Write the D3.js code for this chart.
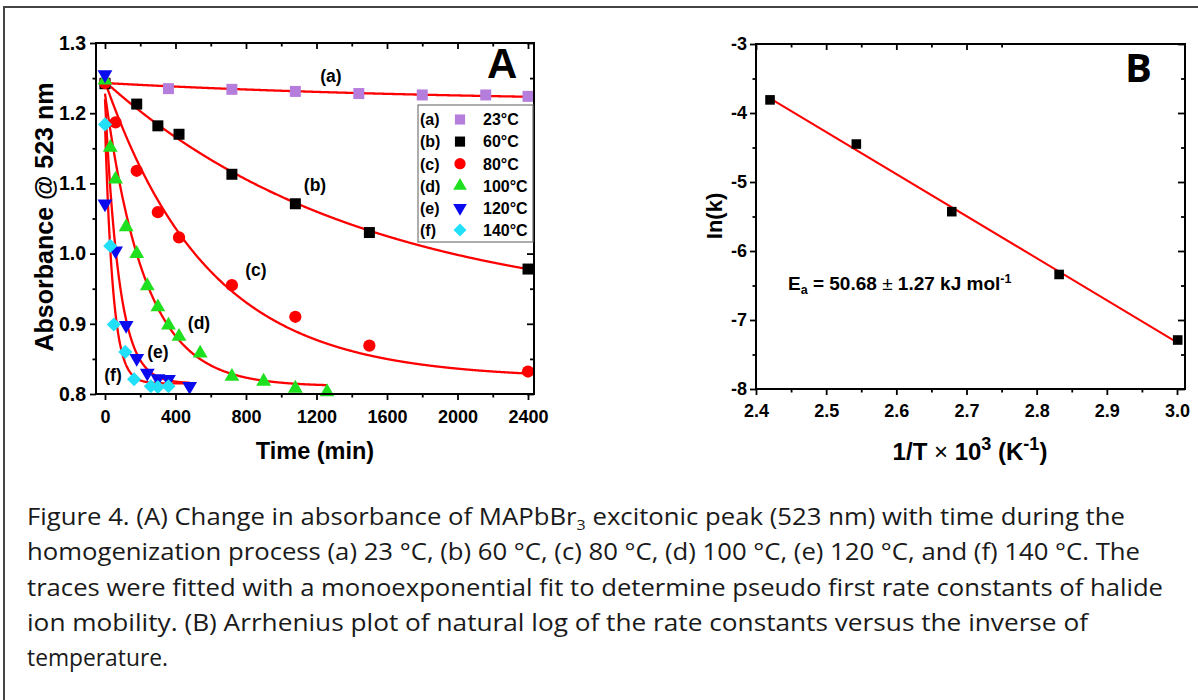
<!DOCTYPE html>
<html>
<head>
<meta charset="utf-8">
<script src="https://cdn.jsdelivr.net/npm/d3@7"></script>
<style>
body { margin: 0; background: #fff; }
svg text { font-family: "Liberation Sans", Arial, sans-serif; }
.tick text { font-weight: bold; font-size: 18px; fill: #000; }
.tick line { stroke: #000; stroke-width: 1.8; }
.ya .tick text { font-size: 19.5px; }
text.caption { font-family: "Open Sans", sans-serif; }
text.bigB { font-family: "Open Sans", sans-serif; }
</style>
</head>
<body>
<div class="chart"></div>
<script>
// ---- panel A: absorbance @ 523 nm vs time ----
var seriesNames = ["(a)", "(b)", "(c)", "(d)", "(e)", "(f)"];
var tempLabels = ["23\u00B0C", "60\u00B0C", "80\u00B0C", "100\u00B0C", "120\u00B0C", "140\u00B0C"];
var seriesColors = ["#b57edc", "#000000", "#ff0000", "#1fe01f", "#0a0aee", "#22e0f8"];
var seriesShapes = ["square", "square", "circle", "triangle", "triangleDown", "diamond"];

var timeA = [0, 360, 720, 1080, 1440, 1800, 2160, 2400];
var absA = [1.243, 1.235, 1.234, 1.231, 1.228, 1.226, 1.226, 1.224];
var timeB = [0, 180, 300, 420, 720, 1080, 1500, 2400];
var absB = [1.242, 1.213, 1.182, 1.170, 1.113, 1.071, 1.030, 0.978];
var timeC = [0, 60, 180, 300, 420, 720, 1080, 1500, 2400];
var absC = [1.243, 1.187, 1.118, 1.059, 1.023, 0.955, 0.910, 0.869, 0.832];
var timeD = [0, 30, 60, 120, 180, 240, 300, 360, 420, 540, 720, 900, 1080, 1260];
var absD = [1.247, 1.151, 1.106, 1.038, 1.000, 0.954, 0.924, 0.898, 0.882, 0.858, 0.825, 0.818, 0.808, 0.803];
var timeE = [0, 0, 60, 120, 180, 240, 300, 360, 480];
var absE = [1.255, 1.071, 1.004, 0.898, 0.851, 0.830, 0.822, 0.821, 0.811];
var timeF = [0, 30, 50, 115, 165, 260, 300, 360];
var absF = [1.184, 1.011, 0.899, 0.860, 0.821, 0.811, 0.810, 0.811];

// monoexponential fit parameters A(t) = Ainf + (A0 - Ainf) exp(-k t)
var fitA0 = [1.243, 1.245, 1.245, 1.228, 1.220, 1.186];
var fitAinf = [1.215, 0.913, 0.822, 0.811, 0.815, 0.815];
var fitK = [0.0005, 0.00068, 0.0017, 0.0044, 0.0125, 0.0221];
var fitTmax = [2400, 2400, 2400, 1260, 480, 480];

var xTicksA = [0, 400, 800, 1200, 1600, 2000, 2400];
var xMinorA = [200, 600, 1000, 1400, 1800, 2200];
var yTicksA = [0.8, 0.9, 1.0, 1.1, 1.2, 1.3];
var yMinorA = [0.85, 0.95, 1.05, 1.15, 1.25];

// ---- panel B: Arrhenius plot ----
var invT = [2.420, 2.543, 2.679, 2.832, 3.001];
var lnK = [-3.81, -4.45, -5.43, -6.34, -7.29];
var arrSlope = -6.096, arrIntercept = 10.965, arrRange = [2.42, 3.0];
var xTicksB = [2.4, 2.5, 2.6, 2.7, 2.8, 2.9, 3.0];
var xMinorB = [2.45, 2.55, 2.65, 2.75, 2.85, 2.95];
var yTicksB = [-8, -7, -6, -5, -4, -3];
var yMinorB = [-7.5, -6.5, -5.5, -4.5, -3.5];

var captionLines = [
  ["Figure 4. (A) Change in absorbance of MAPbBr", "3", " excitonic peak (523 nm) with time during the"],
  ["homogenization process (a) 23 \u00B0C, (b) 60 \u00B0C, (c) 80 \u00B0C, (d) 100 \u00B0C, (e) 120 \u00B0C, and (f) 140 \u00B0C. The"],
  ["traces were fitted with a monoexponential fit to determine pseudo first rate constants of halide"],
  ["ion mobility. (B) Arrhenius plot of natural log of the rate constants versus the inverse of"],
  ["temperature."]
];
var captionWidths = [1098, 1113, 1136, 1061, 141];

var svg = d3.select(".chart").append("svg")
  .attr("width", 1198).attr("height", 700);

svg.append("rect")
  .attr("x", 4).attr("y", 7).attr("width", 1210).attr("height", 710)
  .attr("fill", "none").attr("stroke", "#444").attr("stroke-width", 2);

function symbolPath(shape, size) {
  if (shape == "circle") return d3.symbol(d3.symbolCircle, size)();
  if (shape == "square") return d3.symbol(d3.symbolSquare, size)();
  if (shape == "diamond") return d3.symbol(d3.symbolSquare, size)();
  return d3.symbol(d3.symbolTriangle, size)();
}
function symbolRot(shape) {
  if (shape == "triangleDown") return " rotate(180)";
  if (shape == "diamond") return " rotate(45)";
  return "";
}
var shapeSize = { square: 121, circle: 118, triangle: 95, triangleDown: 95, diamond: 100 };

function drawAxes(g, x, y, box, t, topMax, xPad, yPad) {
  g.append("g").attr("transform", `translate(0,${box.b})`)
    .call(d3.axisBottom(x).tickValues(t.xMajor).tickSize(6).tickPadding(xPad).tickFormat(t.xFmt));
  g.append("g").attr("transform", `translate(0,${box.b})`)
    .call(d3.axisBottom(x).tickValues(t.xMinor).tickSize(3.5).tickFormat(""));
  g.append("g").attr("class", t.yClass).attr("transform", `translate(${box.l},0)`)
    .call(d3.axisLeft(y).tickValues(t.yMajor).tickSize(6).tickPadding(yPad).tickFormat(t.yFmt));
  g.append("g").attr("transform", `translate(${box.l},0)`)
    .call(d3.axisLeft(y).tickValues(t.yMinor).tickSize(3.5).tickFormat(""));
  var topMaj = t.xMajor.filter(d => d <= topMax), topMin = t.xMinor.filter(d => d <= topMax);
  g.append("g").attr("transform", `translate(0,${box.t})`)
    .call(d3.axisTop(x).tickValues(topMaj).tickSize(-6).tickFormat(""));
  g.append("g").attr("transform", `translate(0,${box.t})`)
    .call(d3.axisTop(x).tickValues(topMin).tickSize(-3.5).tickFormat(""));
  g.append("g").attr("transform", `translate(${box.r},0)`)
    .call(d3.axisRight(y).tickValues(t.yMajor).tickSize(-7).tickFormat(""));
  g.append("g").attr("transform", `translate(${box.r},0)`)
    .call(d3.axisRight(y).tickValues(t.yMinor).tickSize(-4).tickFormat(""));
  g.selectAll(".domain").remove();
  g.append("rect")
    .attr("x", box.l).attr("y", box.t).attr("width", box.r - box.l).attr("height", box.b - box.t)
    .attr("fill", "none").attr("stroke", "#000").attr("stroke-width", 2);
}

// ================= panel A =================
var boxA = { l: 96, r: 534, t: 43, b: 394 };
var xA = d3.scaleLinear().domain([-51, 2434]).range([boxA.l, boxA.r]);
var yA = d3.scaleLinear().domain([0.8, 1.3]).range([boxA.b, boxA.t]);
var gA = svg.append("g");

var seriesData = [[timeA, absA], [timeB, absB], [timeC, absC], [timeD, absD], [timeE, absE], [timeF, absF]];

// fits
var fitLine = d3.line().x(d => xA(d[0])).y(d => yA(d[1]));
seriesData.forEach(function(s, i) {
  var pts = d3.range(0, fitTmax[i] + 1, 3).map(function(t) {
    return [t, fitAinf[i] + (fitA0[i] - fitAinf[i]) * Math.exp(-fitK[i] * t)];
  });
  gA.append("path").attr("d", fitLine(pts))
    .attr("fill", "none").attr("stroke", "#ff0000").attr("stroke-width", 2.3);
});

// markers
seriesData.forEach(function(s, i) {
  var shape = seriesShapes[i];
  gA.selectAll(".m" + i)
    .data(s[0].map((t, j) => [t, s[1][j]]))
    .enter().append("path")
    .attr("class", "m" + i)
    .attr("d", symbolPath(shape, shapeSize[shape]))
    .attr("transform", d => `translate(${xA(d[0])},${yA(d[1])})` + symbolRot(shape))
    .attr("fill", seriesColors[i]);
});

drawAxes(gA, xA, yA, boxA, {
  xMajor: xTicksA, xMinor: xMinorA, yMajor: yTicksA, yMinor: yMinorA,
  xFmt: d3.format("d"), yFmt: d3.format(".1f"), yClass: "ya"
}, 2400, 10, 4);

// series labels
var labelPos = [[331, 82], [315, 191], [256, 276], [199, 329], [158, 358], [113, 381]];
seriesNames.forEach(function(n, i) {
  gA.append("text").attr("x", labelPos[i][0]).attr("y", labelPos[i][1])
    .attr("text-anchor", "middle").attr("font-weight", "bold").attr("font-size", 17.5)
    .text(n);
});

gA.append("text").attr("x", 487).attr("y", 78)
  .attr("font-weight", "bold").attr("font-size", 42).text("A");

// legend
var leg = gA.append("g");
leg.append("rect").attr("x", 418).attr("y", 105).attr("width", 115).attr("height", 137)
  .attr("fill", "#fff").attr("stroke", "#777").attr("stroke-width", 1.2);
seriesNames.forEach(function(n, i) {
  var cy = 119.5 + i * 22.1;
  var shape = seriesShapes[i];
  leg.append("text").attr("x", 420).attr("y", cy + 5.8)
    .attr("font-weight", "bold").attr("font-size", 16).text(n);
  leg.append("path")
    .attr("d", symbolPath(shape, shapeSize[shape] * 0.85))
    .attr("transform", `translate(460,${cy})` + symbolRot(shape))
    .attr("fill", seriesColors[i]);
  leg.append("text").attr("x", 483).attr("y", cy + 5.8)
    .attr("font-weight", "bold").attr("font-size", 16).text(tempLabels[i]);
});

// axis titles
gA.append("text")
  .attr("transform", "translate(53,217) rotate(-90)")
  .attr("text-anchor", "middle").attr("font-weight", "bold").attr("font-size", 25)
  .text("Absorbance @ 523 nm");
gA.append("text")
  .attr("x", 315).attr("y", 459)
  .attr("text-anchor", "middle").attr("font-weight", "bold").attr("font-size", 23.5)
  .text("Time (min)");

// ================= panel B =================
var boxB = { l: 756, r: 1185, t: 44, b: 389 };
var xB = d3.scaleLinear().domain([2.4, 3.0114]).range([boxB.l, boxB.r]);
var yB = d3.scaleLinear().domain([-8, -3]).range([boxB.b, boxB.t]);
var gB = svg.append("g");

gB.append("line")
  .attr("x1", xB(arrRange[0])).attr("y1", yB(arrIntercept + arrSlope * arrRange[0]))
  .attr("x2", xB(arrRange[1])).attr("y2", yB(arrIntercept + arrSlope * arrRange[1]))
  .attr("stroke", "#ff0000").attr("stroke-width", 2);

gB.selectAll(".pb")
  .data(invT.map((v, i) => [v, lnK[i]]))
  .enter().append("path")
  .attr("class", "pb")
  .attr("d", d3.symbol(d3.symbolSquare, 92)())
  .attr("transform", d => `translate(${xB(d[0])},${yB(d[1])})`)
  .attr("fill", "#000");

drawAxes(gB, xB, yB, boxB, {
  xMajor: xTicksB, xMinor: xMinorB, yMajor: yTicksB, yMinor: yMinorB,
  xFmt: d3.format(".1f"), yFmt: d => String(d).replace("\u2212", "-"), yClass: "yb"
}, 2.75, 9, 3);

gB.append("text").attr("class", "bigB").attr("x", 1125).attr("y", 82)
  .attr("font-weight", "bold").attr("font-size", 40).text("B");

var ea = gB.append("text").attr("x", 788).attr("y", 290)
  .attr("font-weight", "bold").attr("font-size", 19);
ea.append("tspan").text("E");
ea.append("tspan").attr("font-size", 12.5).attr("dy", 4).text("a");
ea.append("tspan").attr("dy", -4).text(" = 50.68 ");
ea.append("tspan").attr("font-weight", "normal").text("\u00B1");
ea.append("tspan").text(" 1.27 kJ mol");
ea.append("tspan").attr("font-size", 12.5).attr("dy", -7).text("-1");

gB.append("text")
  .attr("transform", "translate(722,216) rotate(-90)")
  .attr("text-anchor", "middle").attr("font-weight", "bold").attr("font-size", 22)
  .text("In(k)");

var xt = gB.append("text").attr("x", 970).attr("y", 460)
  .attr("text-anchor", "middle").attr("font-weight", "bold").attr("font-size", 24);
xt.append("tspan").text("1/T ");
xt.append("tspan").attr("font-weight", "normal").text("\u00D7");
xt.append("tspan").text(" 10");
xt.append("tspan").attr("font-size", 18).attr("dy", -10).text("3");
xt.append("tspan").attr("dy", 10).text(" (K");
xt.append("tspan").attr("font-size", 18).attr("dy", -10).text("-1");
xt.append("tspan").attr("dy", 10).text(")");

// ================= caption =================
var cap = svg.append("g");
captionLines.forEach(function(parts, i) {
  var t = cap.append("text").attr("class", "caption")
    .attr("x", 27).attr("y", 525 + i * 35.3)
    .attr("font-size", 24).attr("fill", "#1a1a1a")
    .attr("textLength", captionWidths[i]).attr("lengthAdjust", "spacingAndGlyphs");
  parts.forEach(function(p, j) {
    if (j == 1) {
      t.append("tspan").attr("font-size", 15).attr("dy", 5).text(p);
    } else if (j == 2) {
      t.append("tspan").attr("dy", -5).text(p);
    } else {
      t.append("tspan").text(p);
    }
  });
});
</script>
</body>
</html>
